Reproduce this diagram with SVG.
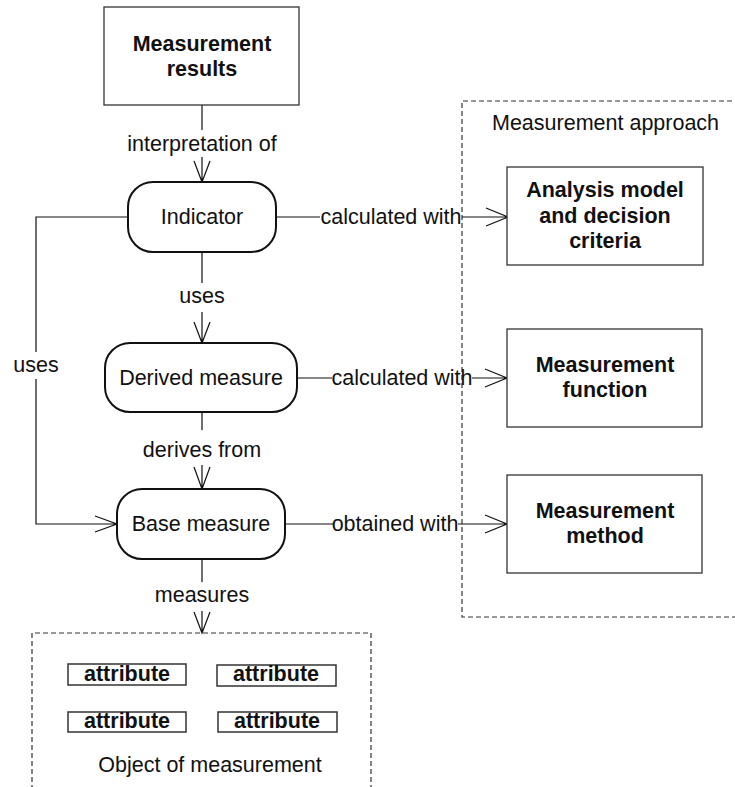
<svg xmlns="http://www.w3.org/2000/svg" width="735" height="787" viewBox="0 0 735 787">
<defs>
<style>
.t{font-family:"Liberation Sans",Arial,sans-serif;font-size:21.5px;fill:#111;}
.b{font-weight:bold;}
.box{fill:#fff;stroke:#333;stroke-width:1.3;}
.rbox{fill:#fff;stroke:#111;stroke-width:2;}
.abox{fill:#fff;stroke:#333;stroke-width:1.5;}
.dash{fill:none;stroke:#333;stroke-width:1.2;stroke-dasharray:5,3;}
.ln{fill:none;stroke:#111;stroke-width:1.2;}
</style>
</defs>
<rect width="735" height="787" fill="#fff"/>
<g id="approach">
<path class="dash" d="M740,101 H462 V617 H740"/>
<text class="t" x="492" y="130">Measurement approach</text>
</g>
<g id="object">
<path class="dash" d="M32,790 V633 H371 V790"/>
<text class="t" x="210" y="772" text-anchor="middle">Object of measurement</text>
</g>
<g id="connectors">
<path class="ln" d="M202,105 V130 M202,157 V182 M194,161 L202,182 L210,161"/>
<path class="ln" d="M276,217 H320 M462,217 H508 M486,208 L508,217 L486,226"/>
<path class="ln" d="M202,252 V283 M202,312 V343 M194,322 L202,343 L210,322"/>
<path class="ln" d="M297,378 H332 M472,378 H507 M485,369 L507,378 L485,387"/>
<path class="ln" d="M202,412 V430 M202,465 V489 M194,467 L202,489 L210,467"/>
<path class="ln" d="M285,524 H333 M458,524 H507 M485,515 L507,524 L485,533"/>
<path class="ln" d="M202,559 V582 M202,611 V633 M194,612 L202,633 L210,612"/>
<path class="ln" d="M128,217 H36 V352 M36,379 V524 H117 M95,516 L117,524 L95,532"/>
<text class="t" x="202" y="151" text-anchor="middle">interpretation of</text>
<text class="t" x="391" y="224" text-anchor="middle">calculated with</text>
<text class="t" x="202" y="303" text-anchor="middle">uses</text>
<text class="t" x="402" y="385" text-anchor="middle">calculated with</text>
<text class="t" x="202" y="457" text-anchor="middle">derives from</text>
<text class="t" x="395" y="531" text-anchor="middle">obtained with</text>
<text class="t" x="202" y="602" text-anchor="middle">measures</text>
<text class="t" x="36" y="372" text-anchor="middle">uses</text>
</g>
<g id="results">
<rect class="box" x="104" y="7" width="195" height="98"/>
<text class="t b" x="202" y="51" text-anchor="middle">Measurement</text>
<text class="t b" x="202" y="76" text-anchor="middle">results</text>
</g>
<g id="indicator">
<rect class="rbox" x="128" y="182" width="148" height="70" rx="25"/>
<text class="t" x="202" y="224" text-anchor="middle">Indicator</text>
</g>
<g id="derived">
<rect class="rbox" x="105" y="343" width="192" height="69" rx="25"/>
<text class="t" x="201" y="385" text-anchor="middle">Derived measure</text>
</g>
<g id="base">
<rect class="rbox" x="117" y="489" width="168" height="70" rx="25"/>
<text class="t" x="201" y="531" text-anchor="middle">Base measure</text>
</g>
<g id="analysis">
<rect class="box" x="507" y="167" width="196" height="98"/>
<text class="t b" x="605" y="197" text-anchor="middle">Analysis model</text>
<text class="t b" x="605" y="223" text-anchor="middle">and decision</text>
<text class="t b" x="605" y="248" text-anchor="middle">criteria</text>
</g>
<g id="function">
<rect class="box" x="507" y="329" width="195" height="98"/>
<text class="t b" x="605" y="372" text-anchor="middle">Measurement</text>
<text class="t b" x="605" y="397" text-anchor="middle">function</text>
</g>
<g id="method">
<rect class="box" x="507" y="475" width="195" height="98"/>
<text class="t b" x="605" y="518" text-anchor="middle">Measurement</text>
<text class="t b" x="605" y="543" text-anchor="middle">method</text>
</g>
<g id="attr1">
<rect class="abox" x="68" y="664" width="118" height="21"/>
<text class="t b" x="127" y="681" text-anchor="middle">attribute</text>
</g>
<g id="attr2">
<rect class="abox" x="217" y="665" width="119" height="21"/>
<text class="t b" x="276" y="681" text-anchor="middle">attribute</text>
</g>
<g id="attr3">
<rect class="abox" x="68" y="712" width="118" height="20"/>
<text class="t b" x="127" y="728" text-anchor="middle">attribute</text>
</g>
<g id="attr4">
<rect class="abox" x="218" y="712" width="119" height="20"/>
<text class="t b" x="277" y="728" text-anchor="middle">attribute</text>
</g>
</svg>
